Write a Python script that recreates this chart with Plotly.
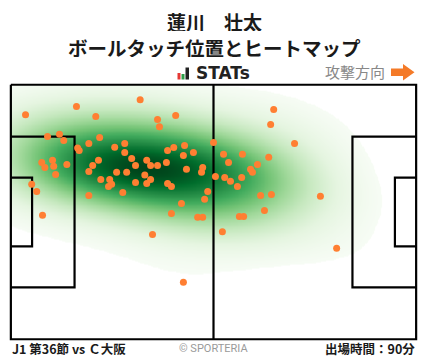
import numpy as np
import plotly.graph_objects as go

# ---------------- data (metres; x from own goal, y from top touchline) ----------------
touch_x = [33.5, 3.8, 17.0, 22.0, 9.5, 12.6, 13.7, 17.3, 17.7, 20.2, 23.0, 26.9, 29.5, 29.5,
           31.3, 32.3, 35.2, 8.0, 10.8, 8.8, 11.1, 14.5, 11.6, 21.2, 22.7, 20.2, 27.4, 30.0,
           34.7, 23.3, 25.6, 26.1, 25.3, 32.3, 35.2, 29.0, 5.4, 6.7, 20.2, 8.2, 68.1, 67.3,
           38.0, 42.7, 38.5, 52.5, 40.6, 42.2, 45.0, 47.3, 44.7, 55.1, 60.0, 66.8, 36.2, 38.0,
           40.3, 56.4, 63.9, 49.7, 49.4, 45.5, 62.1, 62.6, 53.0, 55.4, 59.8, 56.9, 58.7, 36.2,
           40.6, 41.6, 51.0, 50.2, 44.2, 64.7, 67.5, 65.7, 41.6, 48.4, 49.7, 36.7, 44.7, 59.2,
           60.3, 54.8, 73.5, 80.2, 84.4]
touch_y = [4.0, 8.0, 5.8, 8.5, 13.8, 13.2, 14.9, 16.9, 17.6, 15.7, 14.1, 16.7, 15.7, 18.1,
           19.7, 21.6, 20.2, 20.8, 20.2, 22.1, 21.8, 21.3, 24.0, 21.6, 20.2, 23.2, 23.4, 23.4,
           24.1, 25.3, 25.3, 26.6, 27.2, 26.1, 26.4, 28.8, 26.6, 28.5, 29.6, 34.9, 6.6, 10.6,
           9.3, 8.2, 11.2, 15.4, 17.6, 16.8, 16.2, 18.1, 18.9, 18.6, 18.6, 19.4, 21.6, 21.6,
           20.8, 20.8, 21.3, 22.1, 23.4, 22.6, 22.6, 23.4, 24.5, 24.8, 24.8, 25.8, 27.2, 25.3,
           26.4, 27.2, 28.5, 30.6, 31.7, 29.6, 29.3, 33.6, 34.4, 35.4, 35.4, 40.0, 52.8, 35.2,
           35.2, 39.3, 15.7, 29.8, 43.7]

player_name = "蓮川　壮太"
chart_title = "ボールタッチ位置とヒートマップ"
match_label = "J1 第36節 vs Ｃ大阪"
minutes_label = "出場時間：90分"
direction_label = "攻撃方向"

# ---------------- KDE (derived from the touch points) ----------------
X = np.array(touch_x, float)
Y = np.array(touch_y, float)
n = len(X)
BW = 1.65
cov = np.cov(np.vstack([X, Y])) * (n ** (-1.0 / 6.0) * BW) ** 2
inv = np.linalg.inv(cov)
step = 0.375
gx = np.arange(-45, 150 + 1e-9, step)
gy = np.arange(-40, 108 + 1e-9, step)
GX, GY = np.meshgrid(gx, gy)
dens = np.zeros_like(GX)
for xi, yi in zip(X, Y):
    dx = GX - xi
    dy = GY - yi
    dens += np.exp(-0.5 * (inv[0, 0] * dx * dx + 2 * inv[0, 1] * dx * dy + inv[1, 1] * dy * dy))
flat = dens.ravel()
order = np.argsort(flat)
cum = np.cumsum(flat[order])
cum /= cum[-1]
prop = np.empty_like(flat)
prop[order] = cum
Z = prop.reshape(dens.shape)
mx = (gx >= -0.01) & (gx <= 105.01)
my = (gy >= -0.01) & (gy <= 68.01)
Zp = Z[np.ix_(my, mx)]
gxp, gyp = gx[mx], gy[my]

THR = 0.05
greens = ['#f7fcf5', '#e5f5e0', '#c7e9c0', '#a1d99b', '#74c476',
          '#41ab5d', '#238b45', '#006d2c', '#00441b']
cscale = [[0.0, 'rgba(255,255,255,0)'], [THR, 'rgba(255,255,255,0)']]
for i, c in enumerate(greens):
    pos = round(THR + 0.0001 + (1 - THR - 0.0001) * i / (len(greens) - 1), 6)
    cscale.append([pos, c])
cscale[-1][0] = 1.0

# ---------------- layout geometry ----------------
FW, FH = 428, 359
ML, MR, MT, MB = 7, 8, 81, 16
PW, PH = FW - ML - MR, FH - MT - MB


def PX(px):
    return (px - ML) / PW


def PY(py):
    return (MT + PH - py) / PH


fig = go.Figure()
fig.add_trace(go.Heatmap(x=gxp, y=gyp, z=Zp, zmin=0, zmax=1, colorscale=cscale,
                         showscale=False, zsmooth='best', hoverinfo='skip'))

# pitch lines
L, Wd = 105.0, 68.0
pb_d, pb_w = 16.5, 40.32
ga_d, ga_w = 5.5, 18.32
segs = [
    [(0, 0), (L, 0), (L, Wd), (0, Wd), (0, 0)],
    [(L / 2, 0), (L / 2, Wd)],
    [(0, (Wd - pb_w) / 2), (pb_d, (Wd - pb_w) / 2), (pb_d, (Wd + pb_w) / 2), (0, (Wd + pb_w) / 2)],
    [(0, (Wd - ga_w) / 2), (ga_d, (Wd - ga_w) / 2), (ga_d, (Wd + ga_w) / 2), (0, (Wd + ga_w) / 2)],
    [(L, (Wd - pb_w) / 2), (L - pb_d, (Wd - pb_w) / 2), (L - pb_d, (Wd + pb_w) / 2), (L, (Wd + pb_w) / 2)],
    [(L, (Wd - ga_w) / 2), (L - ga_d, (Wd - ga_w) / 2), (L - ga_d, (Wd + ga_w) / 2), (L, (Wd + ga_w) / 2)],
]
lx, ly = [], []
for s in segs:
    for a, b in s:
        lx.append(a)
        ly.append(b)
    lx.append(None)
    ly.append(None)
fig.add_trace(go.Scatter(x=lx, y=ly, mode='lines', line=dict(color='black', width=2.2),
                         hoverinfo='skip', showlegend=False))

fig.add_trace(go.Scatter(x=touch_x, y=touch_y, mode='markers',
                         marker=dict(size=7, color='#ff7f32', line=dict(width=0)),
                         showlegend=False))

FONT = "Noto Sans CJK JP"
ann = []
ann.append(dict(text="<b>%s</b>" % player_name, x=PX(214), y=PY(21), height=20,
                font=dict(size=19, color='#1a1a1a', family=FONT)))
ann.append(dict(text="<b>%s</b>" % chart_title, x=PX(214), y=PY(46.5), height=20,
                font=dict(size=19.5, color='#1a1a1a', family=FONT)))
ann.append(dict(text="<b>STATs</b>", x=PX(222.5), y=PY(72.5), font=dict(size=17, color='#222', family="DejaVu Sans")))
ann.append(dict(text=direction_label, x=PX(355), y=PY(71.5), font=dict(size=15, color='#888', family=FONT)))
ann.append(dict(text="<b>%s</b>" % match_label, x=PX(10), y=PY(348.5), xanchor='left',
                font=dict(size=12.5, color='#1a1a1a', family=FONT)))
ann.append(dict(text="© SPORTERIA", x=PX(213), y=PY(348), font=dict(size=11, color='#9a9a9a', family="Roboto")))
ann.append(dict(text="<b>%s</b>" % minutes_label, x=PX(417), y=PY(348.5), xanchor='right',
                font=dict(size=12.5, color='#1a1a1a', family=FONT)))
for a in ann:
    a.setdefault('xanchor', 'center')
    a.update(xref='paper', yref='paper', yanchor='middle', showarrow=False)

shapes = []
# STATs logo bars
for (x0, x1, y0, col) in [(177.5, 180.5, 73.0, '#e53935'), (181.5, 184.5, 74.0, '#2e9e48'),
                          (185.5, 189.0, 67.5, '#222222')]:
    shapes.append(dict(type='rect', xref='paper', yref='paper', x0=PX(x0), x1=PX(x1),
                       y0=PY(79.5), y1=PY(y0), fillcolor=col, line=dict(width=0)))
# direction arrow
pts = [(391, 68.5), (403, 68.5), (403, 64), (414.5, 72.2), (403, 80.5), (403, 76), (391, 76)]
path = "M " + " L ".join("%.5f,%.5f" % (PX(a), PY(b)) for a, b in pts) + " Z"
shapes.append(dict(type='path', xref='paper', yref='paper', path=path,
                   fillcolor='#f47a28', line=dict(width=0)))

fig.update_layout(
    width=FW, height=FH, margin=dict(l=ML, r=MR, t=MT, b=MB),
    paper_bgcolor='white', plot_bgcolor='white', showlegend=False,
    xaxis=dict(range=[-1, 106], visible=False, fixedrange=True),
    yaxis=dict(range=[69, -1], visible=False, fixedrange=True),
    annotations=ann, shapes=shapes,
)

fig.write_html("out.html", config={'displayModeBar': False},
               post_script="document.body.style.margin='0';document.body.style.padding='0';")
